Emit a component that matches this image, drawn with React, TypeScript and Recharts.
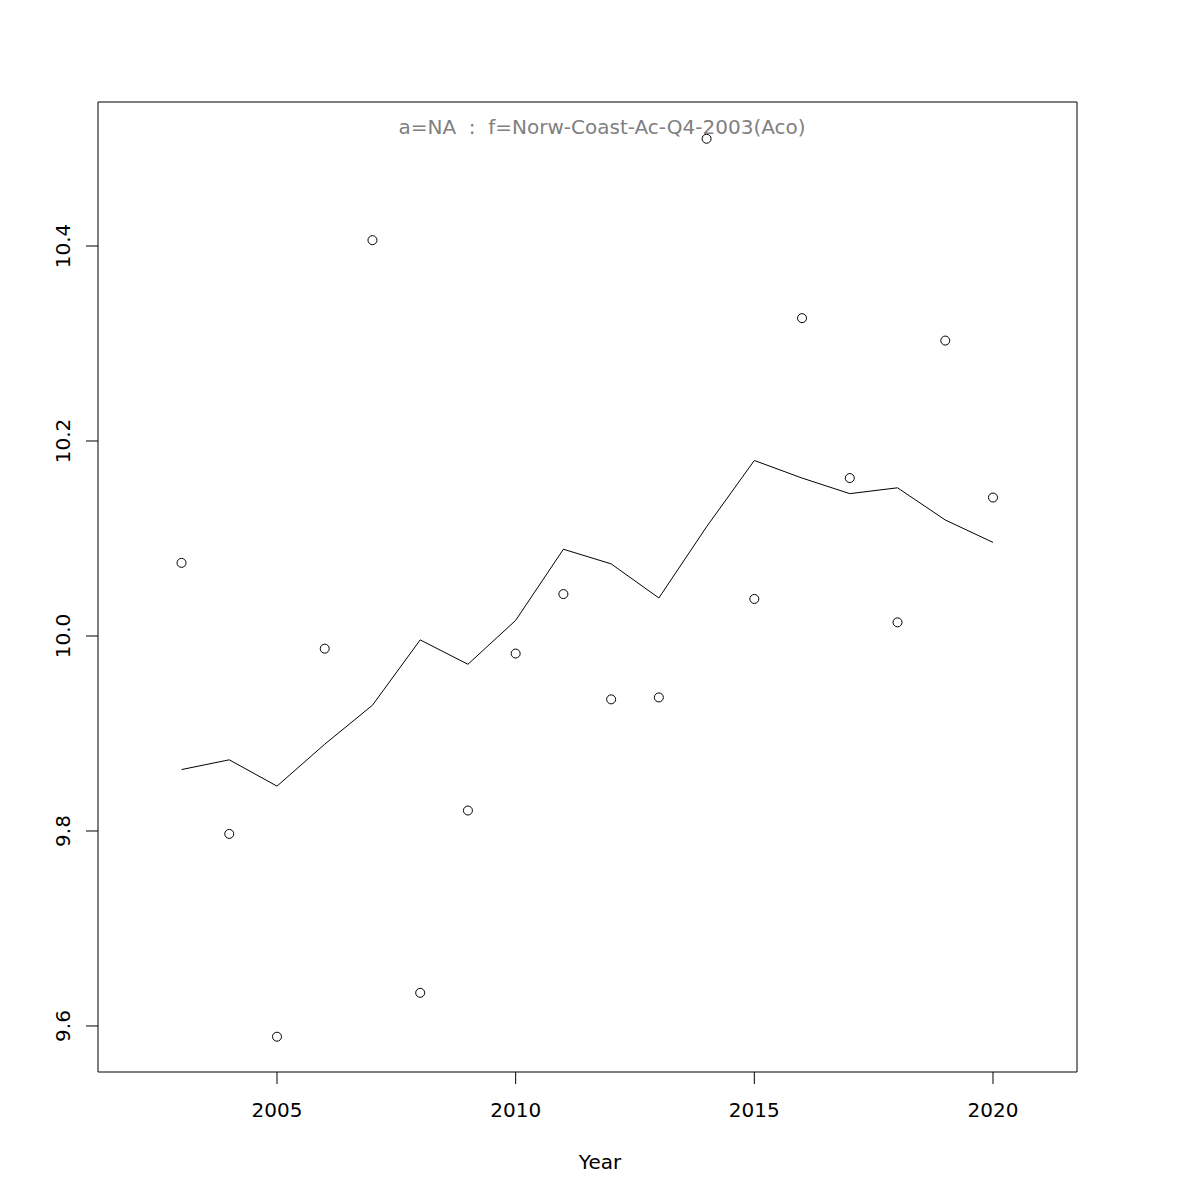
import { ComposedChart, Line, Scatter, XAxis, YAxis, ReferenceArea } from "recharts"

// values
const years = [2003, 2004, 2005, 2006, 2007, 2008, 2009, 2010, 2011, 2012, 2013, 2014, 2015, 2016, 2017, 2018, 2019, 2020]
const observed = [10.075, 9.797, 9.589, 9.987, 10.406, 9.634, 9.821, 9.982, 10.043, 9.935, 9.937, 10.51, 10.038, 10.326, 10.162, 10.014, 10.303, 10.142]
const fitted = [9.863, 9.873, 9.846, 9.889, 9.929, 9.996, 9.971, 10.016, 10.089, 10.074, 10.039, 10.112, 10.18, 10.162, 10.146, 10.152, 10.119, 10.096]
const xTicks = [2005, 2010, 2015, 2020]
const yTicks = [9.6, 9.8, 10.0, 10.2, 10.4]

const xDomain = [2001.25, 2021.76]
const yDomain = [9.5528, 10.5477]

const data = years.map((year, i) => ({ year, obs: observed[i], fit: fitted[i] }))

const font = "DejaVu Sans, sans-serif"

const XTick = ({ x, y, payload }: any) => (
  <text x={x} y={y} dy={24} textAnchor="middle" dominantBaseline="central" fontSize={20} fontFamily={font} fill="#000">
    {payload.value}
  </text>
)

const YTick = ({ x, y, payload }: any) => (
  <text
    x={x - 21}
    y={y}
    textAnchor="middle"
    dominantBaseline="central"
    fontSize={20}
    fontFamily={font}
    fill="#000"
    transform={`rotate(-90 ${x - 21} ${y})`}
  >
    {Number(payload.value).toFixed(1)}
  </text>
)

const Ring = ({ cx, cy }: any) => <circle cx={cx} cy={cy} r={4.5} fill="none" stroke="#000" strokeWidth={1} />

export default function App() {
  return (
    <div style={{ position: "absolute", left: 0, top: 0, width: 1200, height: 1200, background: "#fff" }}>
      <ComposedChart width={1200} height={1200} data={data} margin={{ top: 102, right: 123, bottom: 0, left: 0 }}>
        <XAxis
          dataKey="year"
          type="number"
          domain={xDomain}
          allowDataOverflow
          ticks={xTicks}
          tickSize={12}
          tickLine={{ stroke: "#000" }}
          axisLine={false}
          tick={<XTick />}
          height={128}
        />
        <YAxis
          type="number"
          domain={yDomain}
          allowDataOverflow
          ticks={yTicks}
          tickSize={12}
          tickLine={{ stroke: "#000" }}
          axisLine={false}
          tick={<YTick />}
          width={98}
        />
        <ReferenceArea x1={xDomain[0]} x2={xDomain[1]} y1={yDomain[0]} y2={yDomain[1]} fill="none" stroke="#000" strokeWidth={1} fillOpacity={0} />
        <Line dataKey="fit" type="linear" stroke="#000" strokeWidth={1} dot={false} isAnimationActive={false} />
        <Scatter dataKey="obs" shape={<Ring />} isAnimationActive={false} />
      </ComposedChart>
      <div style={{ position: "absolute", left: 0, width: 1204, top: 116, textAlign: "center", fontFamily: font, fontSize: 20, color: "#808080", lineHeight: "22px" }}>
        a=NA&nbsp;&nbsp;:&nbsp;&nbsp;f=Norw-Coast-Ac-Q4-2003(Aco)
      </div>
      <div style={{ position: "absolute", left: 0, width: 1200, top: 1151, textAlign: "center", fontFamily: font, fontSize: 20, color: "#000", lineHeight: "22px" }}>
        Year
      </div>
    </div>
  )
}
